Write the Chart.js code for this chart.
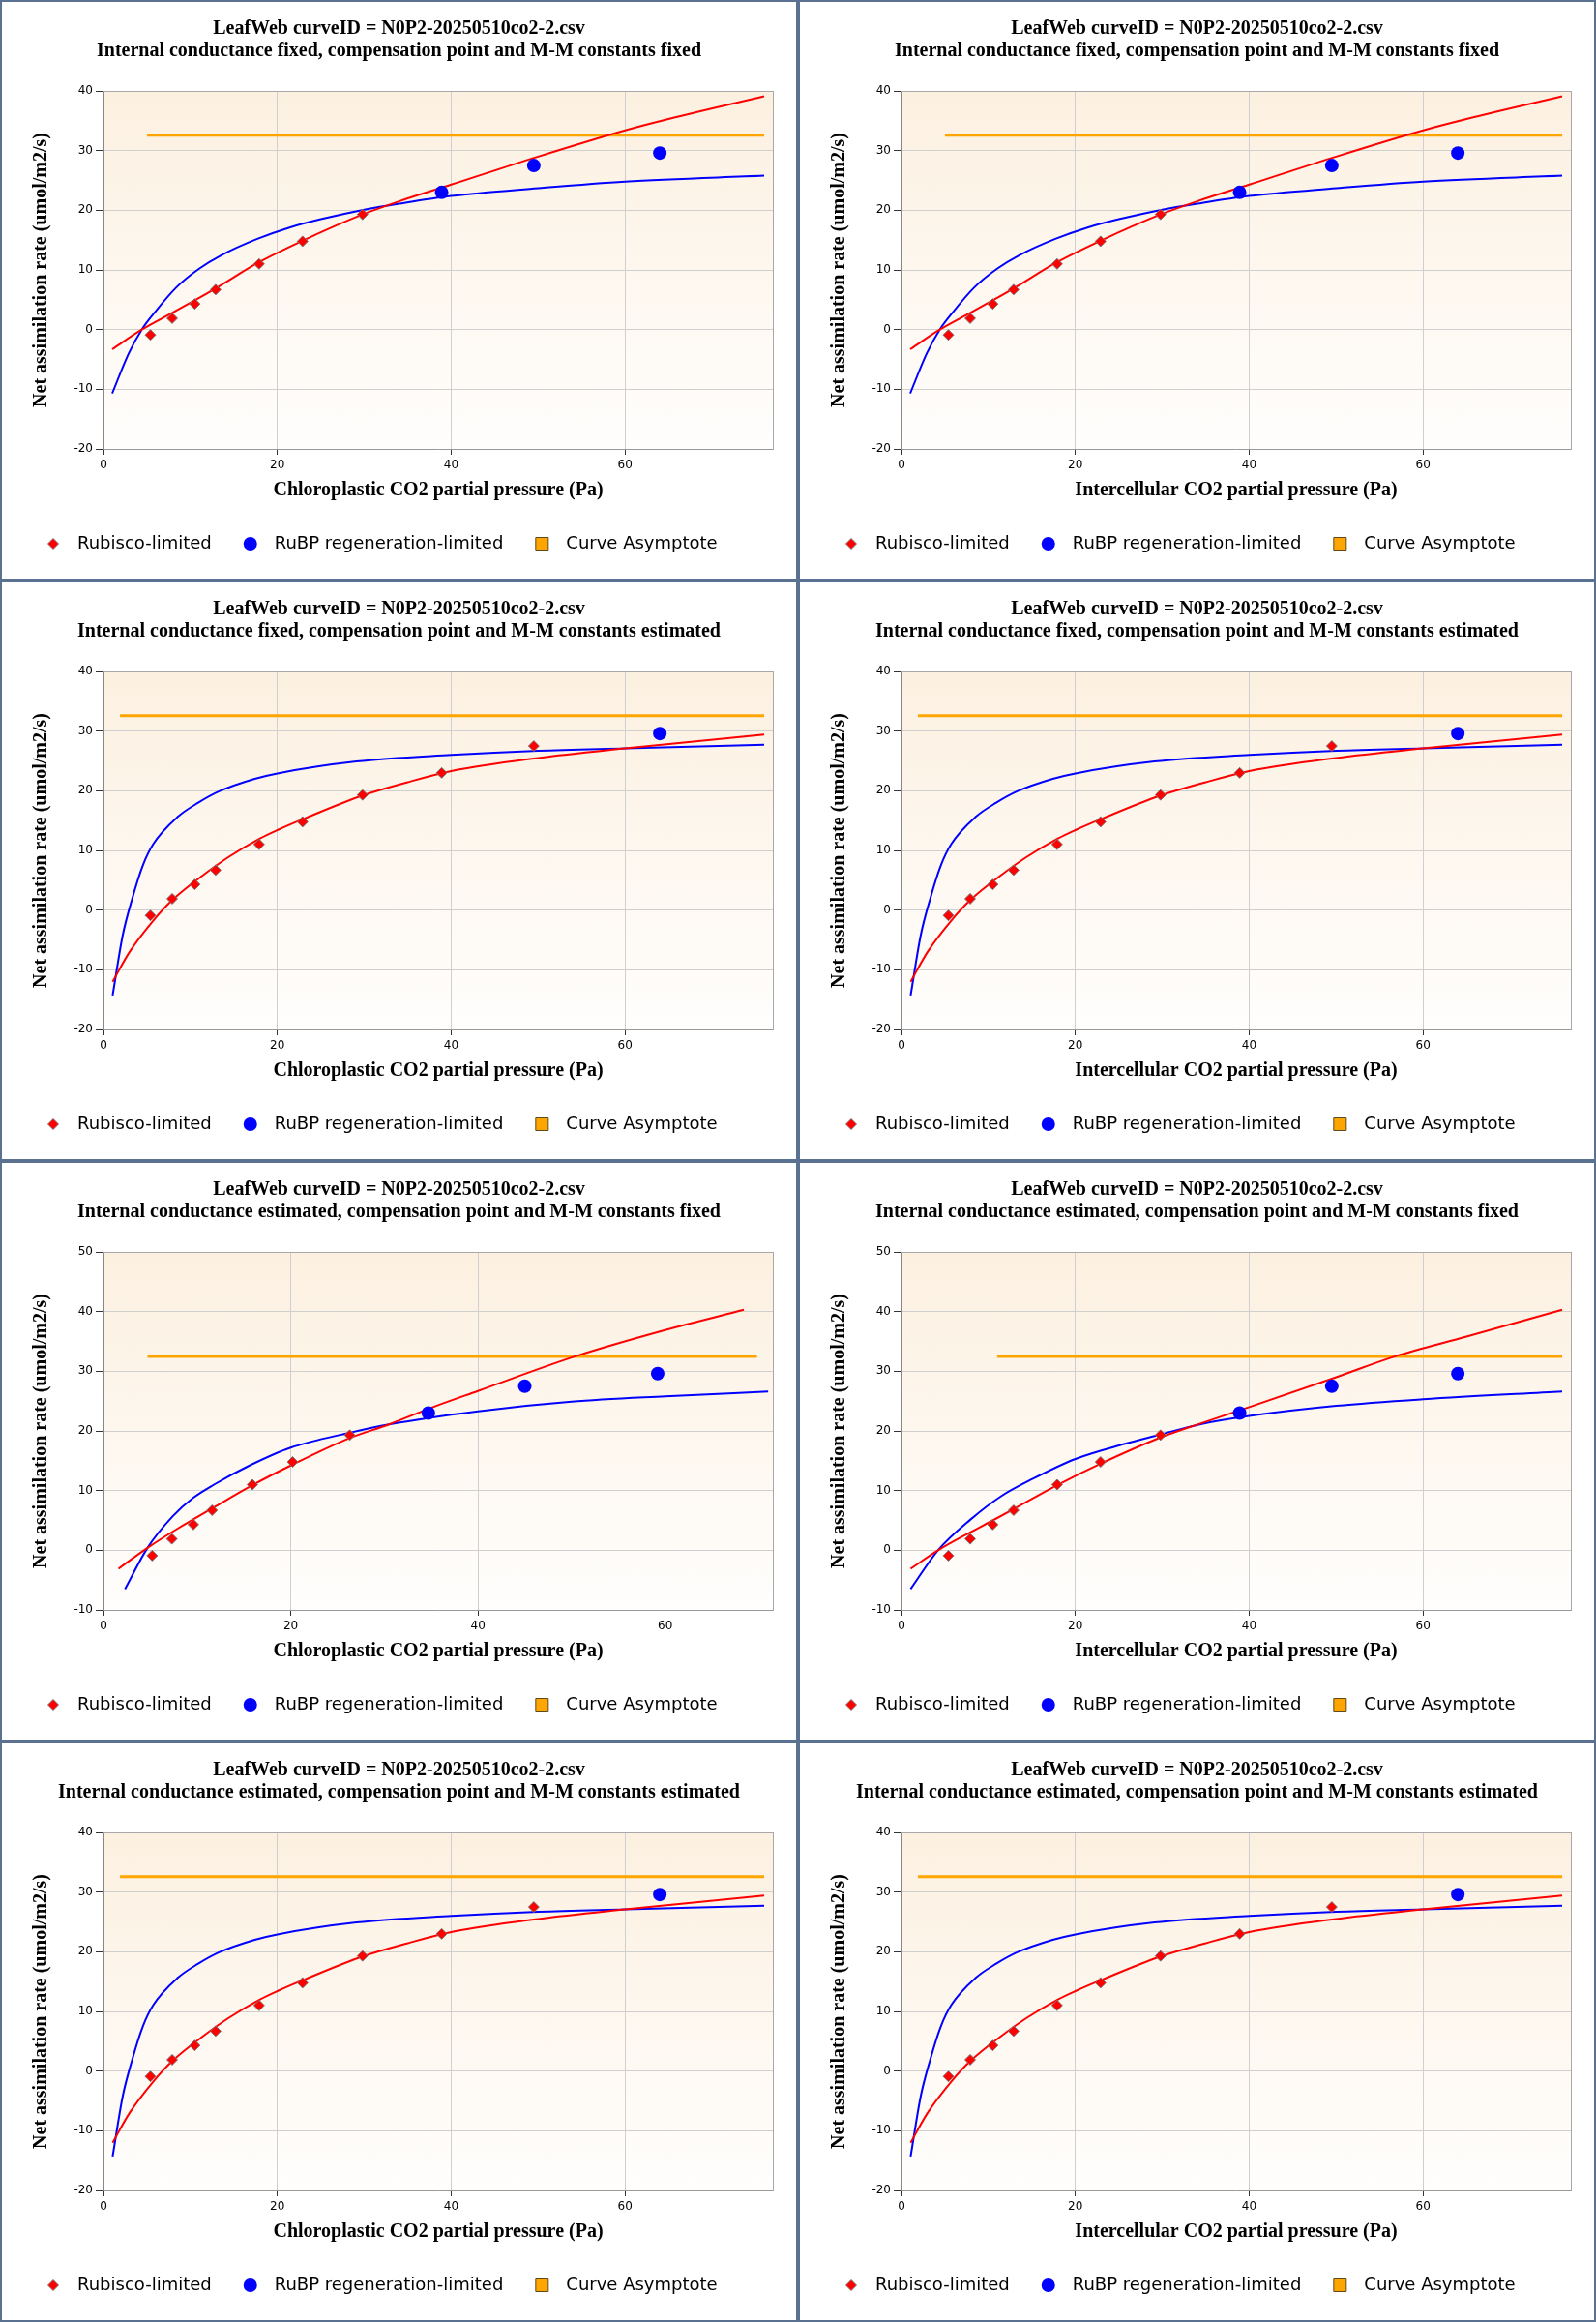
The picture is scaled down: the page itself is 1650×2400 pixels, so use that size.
<!DOCTYPE html>
<html>
<head>
<meta charset="utf-8">
<title>LeafWeb A/C fits</title>
<script src="https://cdn.jsdelivr.net/npm/chart.js@4.4.1/dist/chart.umd.min.js"></script>
<style>
  body { margin: 0; background: #fff; }
  #grid { width: 1650px; display: flex; flex-wrap: wrap; }
  .panel { width: 825px; height: 600px; box-sizing: border-box; border: 2px solid #5b7191; background: #fff; }
  .panel canvas { display: block; }
</style>
</head>
<body>
<div id="grid"></div>
<script>
// measured points (the same for every panel except the gm-estimated chloroplastic one)
var ptsX = [5.4, 7.9, 10.5, 12.9, 17.9, 22.9, 29.8, 38.9, 49.5, 64.0]
var ptsY = [-0.9, 1.9, 4.3, 6.7, 11.0, 14.8, 19.3, 23.0, 27.5, 29.6]
var ptsGmX = [5.2, 7.3, 9.6, 11.6, 15.9, 20.2, 26.3, 34.7, 45.0, 59.2]

// fitted curves, gm fixed / constants fixed
var rubFixedX = [1, 4.4, 7.9, 10.5, 12.9, 17.9, 22.9, 29.8, 34, 40, 50, 60, 65, 76]
var rubFixedY = [-3.3, 0, 2.8, 4.9, 6.9, 11.3, 14.9, 19.3, 21.5, 24.3, 29.0, 33.4, 35.3, 39.1]
var rubpFixedX = [1, 2.9, 4.4, 5.9, 8.4, 11, 13.6, 17.7, 21.4, 25, 30, 34, 40, 50, 60, 76]
var rubpFixedY = [-10.7, -4.0, 0, 2.9, 7.1, 10.2, 12.5, 15.2, 17.1, 18.5, 20.1, 21.1, 22.4, 23.7, 24.8, 25.8]

// constants estimated
var rubEstX = [1.05, 3, 5.7, 8, 11.5, 14.4, 18, 20, 23.2, 29.8, 34.9, 40, 50, 60, 76]
var rubEstY = [-12.0, -7.0, -1.8, 1.8, 5.9, 8.9, 12.0, 13.4, 15.4, 19.2, 21.4, 23.3, 25.5, 27.1, 29.4]
var rubpEstX = [1.05, 2.2, 3.3, 4.5, 5.7, 8.6, 10.9, 13.3, 17.4, 20, 29.1, 40, 50, 60, 76]
var rubpEstY = [-14.3, -4.3, 1.9, 7.4, 11.0, 15.7, 18.0, 19.9, 22.0, 22.9, 24.9, 26.0, 26.7, 27.1, 27.7]

// gm estimated, constants fixed (chloroplastic)
var rubGmX = [1.6, 4.7, 8, 11.8, 15.9, 20, 26.3, 30.5, 35.2, 40, 50.4, 60, 68.4]
var rubGmY = [-3.1, 0.4, 3.7, 7.2, 10.9, 14.2, 18.8, 21.1, 24.0, 26.7, 32.5, 36.9, 40.3]
var rubpGmX = [2.3, 4.7, 7.4, 9.6, 11.8, 15.6, 20, 26.3, 30.5, 40, 50, 60, 71]
var rubpGmY = [-6.5, 0.4, 5.7, 8.8, 11.0, 14.2, 17.2, 19.7, 21.1, 23.3, 24.9, 25.8, 26.6]

// gm estimated, constants fixed (intercellular)
var rubGmCiX = [1.05, 4.2, 7.9, 10.5, 12.9, 17.9, 22.9, 29.8, 34.3, 40, 50, 56.8, 65, 76]
var rubGmCiY = [-3.1, 0, 3.0, 5.0, 6.9, 10.9, 14.5, 18.9, 21.2, 24.0, 29.0, 32.5, 35.8, 40.3]
var rubpGmCiX = [1.05, 4.2, 7.9, 11.5, 15, 20, 25.6, 29.8, 34.3, 40, 50, 60, 76]
var rubpGmCiY = [-6.5, 0, 5.1, 9.1, 11.9, 15.3, 17.8, 19.4, 21.1, 22.5, 24.2, 25.3, 26.6]

// asymptote lines
var asymFixedX = [5.0, 76]
var asymEstX = [1.9, 76]
var asymGmX = [4.7, 69.8]
var asymGmCiX = [11.0, 76]
var asymY = [32.6, 32.6, 32.5, 32.5]

var yTicksLow = [-20, -10, 0, 10, 20, 30, 40]
var yTicksHigh = [-10, 0, 10, 20, 30, 40, 50]
var xTicks = [0, 20, 40, 60]

var titleTop = 'LeafWeb curveID = N0P2-20250510co2-2.csv'
var tFF = 'Internal conductance fixed, compensation point and M-M constants fixed'
var tFE = 'Internal conductance fixed, compensation point and M-M constants estimated'
var tEF = 'Internal conductance estimated, compensation point and M-M constants fixed'
var tEE = 'Internal conductance estimated, compensation point and M-M constants estimated'
var xCc = 'Chloroplastic CO2 partial pressure (Pa)'
var xCi = 'Intercellular CO2 partial pressure (Pa)'
var yLabel = 'Net assimilation rate (umol/m2/s)'
var legendLabels = ['Rubisco-limited', 'RuBP regeneration-limited', 'Curve Asymptote']

var panels = [
    { t: tFF, xl: xCc, px: ptsX, nRub: 7, rub: [rubFixedX, rubFixedY], rubp: [rubpFixedX, rubpFixedY], ax: asymFixedX, ay: asymY[0], yt: yTicksLow, xmax: 77 },
    { t: tFF, xl: xCi, px: ptsX, nRub: 7, rub: [rubFixedX, rubFixedY], rubp: [rubpFixedX, rubpFixedY], ax: asymFixedX, ay: asymY[0], yt: yTicksLow, xmax: 77 },
    { t: tFE, xl: xCc, px: ptsX, nRub: 9, rub: [rubEstX, rubEstY], rubp: [rubpEstX, rubpEstY], ax: asymEstX, ay: asymY[1], yt: yTicksLow, xmax: 77 },
    { t: tFE, xl: xCi, px: ptsX, nRub: 9, rub: [rubEstX, rubEstY], rubp: [rubpEstX, rubpEstY], ax: asymEstX, ay: asymY[1], yt: yTicksLow, xmax: 77 },
    { t: tEF, xl: xCc, px: ptsGmX, nRub: 7, rub: [rubGmX, rubGmY], rubp: [rubpGmX, rubpGmY], ax: asymGmX, ay: asymY[2], yt: yTicksHigh, xmax: 71.5 },
    { t: tEF, xl: xCi, px: ptsX, nRub: 7, rub: [rubGmCiX, rubGmCiY], rubp: [rubpGmCiX, rubpGmCiY], ax: asymGmCiX, ay: asymY[3], yt: yTicksHigh, xmax: 77 },
    { t: tEE, xl: xCc, px: ptsX, nRub: 9, rub: [rubEstX, rubEstY], rubp: [rubpEstX, rubpEstY], ax: asymEstX, ay: asymY[1], yt: yTicksLow, xmax: 77 },
    { t: tEE, xl: xCi, px: ptsX, nRub: 9, rub: [rubEstX, rubEstY], rubp: [rubpEstX, rubpEstY], ax: asymEstX, ay: asymY[1], yt: yTicksLow, xmax: 77 }
]

var SANS = '"DejaVu Sans", Verdana, sans-serif'
var SERIF = '"Liberation Serif", "Times New Roman", serif'

Chart.defaults.font.family = SANS
Chart.defaults.font.size = 12
Chart.defaults.color = '#000'

function pairs(xs, ys) {
    return xs.map(function (x, i) { return { x: x, y: ys[i] } })
}

// beige to white background of the plot area + light frame on top
var plotBackground = {
    id: 'plotBackground',
    beforeDraw: function (chart) {
        var a = chart.chartArea
        var ctx = chart.ctx
        var g = ctx.createLinearGradient(0, a.top, 0, a.bottom)
        g.addColorStop(0, '#fcf0e0')
        g.addColorStop(1, '#fffefd')
        ctx.save()
        ctx.fillStyle = g
        ctx.fillRect(a.left, a.top, a.right - a.left, a.bottom - a.top)
        ctx.restore()
    },
    beforeDatasetsDraw: function (chart) {
        var a = chart.chartArea
        var ctx = chart.ctx
        ctx.save()
        ctx.strokeStyle = '#a8a8a8'
        ctx.lineWidth = 1
        ctx.beginPath()
        ctx.moveTo(a.left, a.top + 0.5)
        ctx.lineTo(a.right, a.top + 0.5)
        ctx.stroke()
        ctx.restore()
    }
}

// legend row under the x axis title
var bottomLegend = {
    id: 'bottomLegend',
    afterDraw: function (chart) {
        var ctx = chart.ctx
        var ds = chart.data.datasets
        var x = 53
        var y = 560
        ctx.save()
        ctx.font = '18px ' + SANS
        ctx.textBaseline = 'middle'
        for (var i = 0; i < 3; i++) {
            var d = ds[i]
            ctx.beginPath()
            if (i == 0) {
                ctx.moveTo(x, y - 5.5); ctx.lineTo(x + 5.5, y); ctx.lineTo(x, y + 5.5); ctx.lineTo(x - 5.5, y); ctx.closePath()
                ctx.fillStyle = d.backgroundColor; ctx.fill()
                ctx.strokeStyle = d.borderColor; ctx.lineWidth = 1; ctx.stroke()
            } else if (i == 1) {
                ctx.arc(x, y, 7, 0, Math.PI * 2)
                ctx.fillStyle = d.backgroundColor; ctx.fill()
            } else {
                ctx.rect(x - 6.5, y - 6.5, 13, 13)
                ctx.fillStyle = d.borderColor; ctx.fill()
                ctx.strokeStyle = '#5a4a20'; ctx.lineWidth = 1; ctx.stroke()
            }
            ctx.fillStyle = '#000'
            ctx.fillText(legendLabels[i], x + 25, y)
            x += 25 + ctx.measureText(legendLabels[i]).width + 40
        }
        ctx.restore()
    }
}

var serifBold = { family: SERIF, size: 20, weight: 'bold', lineHeight: '23px' }

function makePanel(p) {
    var div = document.createElement('div')
    div.className = 'panel'
    var canvas = document.createElement('canvas')
    canvas.width = 821
    canvas.height = 596
    div.appendChild(canvas)
    document.getElementById('grid').appendChild(div)

    var n = p.nRub
    var rubPts = pairs(p.px.slice(0, n), ptsY.slice(0, n))
    var rubpPts = pairs(p.px.slice(n), ptsY.slice(n))

    new Chart(canvas, {
        type: 'scatter',
        data: {
            datasets: [
                { label: legendLabels[0], data: rubPts, pointStyle: 'rectRot', pointRadius: 5.5, backgroundColor: '#ff0000', borderColor: '#7a7a7a', borderWidth: 1, order: 0 },
                { label: legendLabels[1], data: rubpPts, pointStyle: 'circle', pointRadius: 7, backgroundColor: '#0000ff', borderColor: '#0000ff', borderWidth: 0, order: 0 },
                { label: legendLabels[2], data: pairs(p.ax, [p.ay, p.ay]), showLine: true, pointRadius: 0, borderColor: '#ffa500', borderWidth: 3, order: 2 },
                { label: 'Rubisco fit', data: pairs(p.rub[0], p.rub[1]), showLine: true, pointRadius: 0, borderColor: '#ff0000', borderWidth: 2, cubicInterpolationMode: 'monotone', order: 1 },
                { label: 'RuBP fit', data: pairs(p.rubp[0], p.rubp[1]), showLine: true, pointRadius: 0, borderColor: '#0000ff', borderWidth: 2, cubicInterpolationMode: 'monotone', order: 1 }
            ]
        },
        options: {
            responsive: false,
            animation: false,
            devicePixelRatio: 1,
            layout: { padding: { left: 0, right: 0, top: 0, bottom: 74 } },
            plugins: {
                legend: { display: false },
                tooltip: { enabled: false },
                title: {
                    display: true,
                    text: [titleTop, p.t],
                    color: '#000',
                    font: serifBold,
                    padding: { top: 16.5, bottom: 29.5 }
                }
            },
            scales: {
                x: {
                    type: 'linear',
                    min: 0,
                    max: p.xmax,
                    afterFit: function (s) { s.height = 60 },
                    afterBuildTicks: function (s) { s.ticks = xTicks.map(function (v) { return { value: v } }) },
                    ticks: { padding: 4, font: { size: 12 }, color: '#000' },
                    grid: { color: '#cfcfcf', tickColor: '#333', tickLength: 6 },
                    border: { color: '#999' },
                    title: {
                        display: true,
                        text: p.xl,
                        color: '#000',
                        font: serifBold,
                        padding: { top: 0, bottom: 5.5 }
                    }
                },
                y: {
                    type: 'linear',
                    min: p.yt[0],
                    max: p.yt[p.yt.length - 1],
                    afterFit: function (s) { s.width = 105 },
                    afterBuildTicks: function (s) { s.ticks = p.yt.map(function (v) { return { value: v } }) },
                    ticks: { padding: 3, font: { size: 12 }, color: '#000' },
                    grid: { color: '#cfcfcf', tickColor: '#333', tickLength: 8 },
                    border: { color: '#888' },
                    title: {
                        display: true,
                        text: yLabel,
                        color: '#000',
                        font: serifBold,
                        padding: { top: 29.5, bottom: 0 }
                    }
                },
                // empty right axis: keeps the right margin and draws the frame edge
                yRight: {
                    type: 'linear',
                    position: 'right',
                    min: p.yt[0],
                    max: p.yt[p.yt.length - 1],
                    afterFit: function (s) { s.width = 24 },
                    ticks: { display: false },
                    grid: { display: false },
                    border: { color: '#a8a8a8' }
                }
            }
        },
        plugins: [plotBackground, bottomLegend]
    })
}

panels.forEach(makePanel)
</script>
</body>
</html>
